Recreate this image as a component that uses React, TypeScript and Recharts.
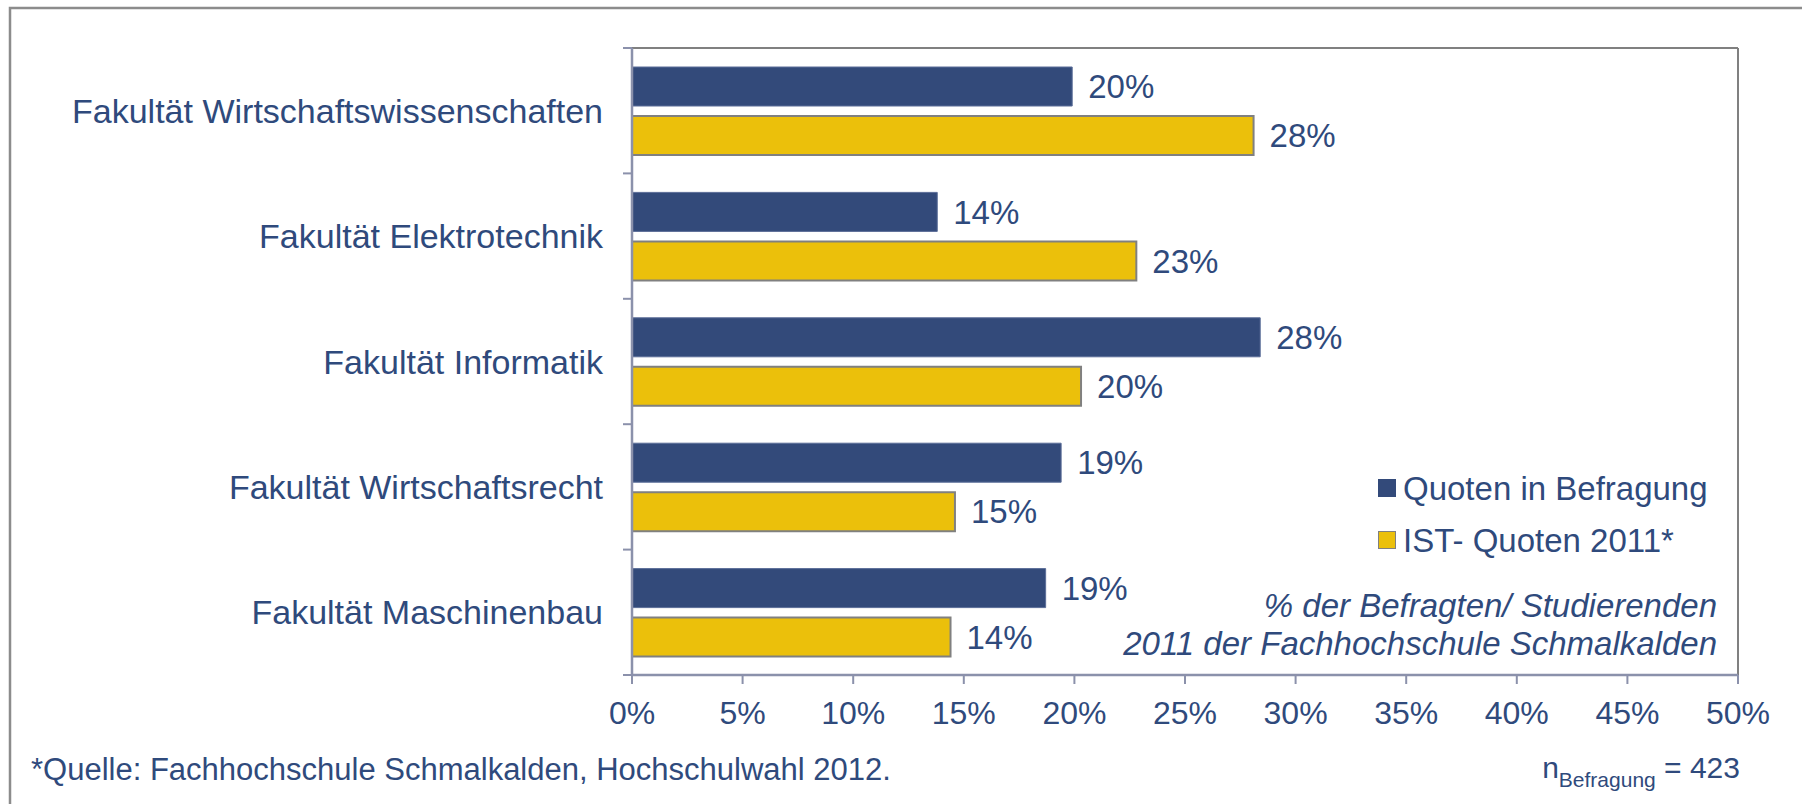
import React from 'react'
import { BarChart, Bar, XAxis, YAxis, LabelList, Legend, usePlotArea } from 'recharts'

const categories = [
  'Fakultät Wirtschaftswissenschaften',
  'Fakultät Elektrotechnik',
  'Fakultät Informatik',
  'Fakultät Wirtschaftsrecht',
  'Fakultät Maschinenbau',
]
const quotenBefragung = [19.9, 13.8, 28.4, 19.4, 18.7]
const istQuoten2011 = [28.1, 22.8, 20.3, 14.6, 14.4]
const xTicks = [0, 5, 10, 15, 20, 25, 30, 35, 40, 45, 50]
const seriesNames = ['Quoten in Befragung', 'IST- Quoten 2011*']

const data = categories.map((name, i) => ({
  name,
  befragung: quotenBefragung[i],
  ist: istQuoten2011[i],
}))

const FONT = '"Liberation Sans", Arial, sans-serif'
const TEXT = '#2f4a7c'
const NAVY = '#334a7a'
const GOLD = '#ebc00b'
const AXIS = '#8b91ab'
const BORDER = '#808080'

// top/right border of the plot and Excel-style ticks between categories
function PlotFrame() {
  const area = usePlotArea()
  if (!area) return null
  const { x, y, width, height } = area
  const n = categories.length
  return (
    <g>
      <line x1={x} y1={y} x2={x + width} y2={y} stroke={BORDER} strokeWidth={2} />
      <line x1={x + width} y1={y} x2={x + width} y2={y + height} stroke={BORDER} strokeWidth={2} />
      {Array.from({ length: n + 1 }, (_, i) => y + (height * i) / n).map((ty) => (
        <line key={ty} x1={x - 9} x2={x} y1={ty} y2={ty} stroke={AXIS} strokeWidth={2} />
      ))}
    </g>
  )
}

function LegendBox() {
  const colors = [
    { fill: NAVY, stroke: NAVY },
    { fill: GOLD, stroke: BORDER },
  ]
  return (
    <div style={{ fontFamily: FONT, color: TEXT }}>
      {seriesNames.map((s, i) => (
        <div key={s} style={{ display: 'flex', alignItems: 'center', height: 52 }}>
          <div style={{
            width: 16, height: 16, background: colors[i].fill,
            border: `1.5px solid ${colors[i].stroke}`, marginRight: 7,
          }} />
          <span style={{ fontSize: 33, lineHeight: '33px' }}>{s}</span>
        </div>
      ))}
    </div>
  )
}

export default function App() {
  const pct = (v: any) => `${Math.round(Number(v))}%`
  return (
    <div style={{ position: 'relative', width: 1802, height: 804, background: '#fff', overflow: 'hidden' }}>
      <style>{'body{margin:0}'}</style>
      <BarChart
        width={1802}
        height={804}
        data={data}
        layout="vertical"
        barSize={39}
        barGap={10}
        margin={{ top: 48, right: 64, bottom: 69, left: 0 }}
      >
        <XAxis
          type="number"
          domain={[0, 50]}
          ticks={xTicks}
          tickFormatter={(v) => `${v}%`}
          height={60}
          tickSize={9}
          tickMargin={17}
          stroke={AXIS}
          axisLine={{ stroke: AXIS, strokeWidth: 2.5 }}
          tickLine={{ stroke: AXIS, strokeWidth: 2 }}
          tick={{ fill: TEXT, fontSize: 32, fontFamily: FONT }}
        />
        <YAxis
          type="category"
          dataKey="name"
          width={632}
          tickLine={false}
          tickSize={8}
          tickMargin={21}
          axisLine={{ stroke: AXIS, strokeWidth: 2.5 }}
          tick={{ fill: TEXT, fontSize: 34, fontFamily: FONT }}
        />
        <Legend
          layout="vertical"
          align="center"
          verticalAlign="middle"
          content={<LegendBox />}
          wrapperStyle={{ left: 1378, top: 462, width: 400 }}
        />
        <Bar dataKey="befragung" name={seriesNames[0]} fill={NAVY} stroke="#5b6d98" strokeWidth={1} isAnimationActive={false}>
          <LabelList dataKey="befragung" position="right" offset={16} formatter={pct}
            style={{ fill: TEXT, fontSize: 33, fontFamily: FONT }} />
        </Bar>
        <Bar dataKey="ist" name={seriesNames[1]} fill={GOLD} stroke={BORDER} strokeWidth={2} isAnimationActive={false}>
          <LabelList dataKey="ist" position="right" offset={16} formatter={pct}
            style={{ fill: TEXT, fontSize: 33, fontFamily: FONT }} />
        </Bar>
        <PlotFrame />
      </BarChart>
      <svg width={1802} height={804} style={{ position: 'absolute', left: 0, top: 0, pointerEvents: 'none' }}>
        <path d="M10 804 L10 8 L1802 8" fill="none" stroke="#8c8c8c" strokeWidth={2.5} />
        <g fontFamily={FONT} fill={TEXT}>
          <text x={1717} y={617} textAnchor="end" fontSize={33} fontStyle="italic">% der Befragten/ Studierenden</text>
          <text x={1717} y={655} textAnchor="end" fontSize={33} fontStyle="italic">2011 der Fachhochschule Schmalkalden</text>
          <text x={31} y={780} fontSize={31}>*Quelle: Fachhochschule Schmalkalden, Hochschulwahl 2012.</text>
          <text x={1740} y={778} textAnchor="end" fontSize={30}>
            n<tspan fontSize={21} dy={9}>Befragung</tspan><tspan dy={-9}> = 423</tspan>
          </text>
        </g>
      </svg>
    </div>
  )
}
